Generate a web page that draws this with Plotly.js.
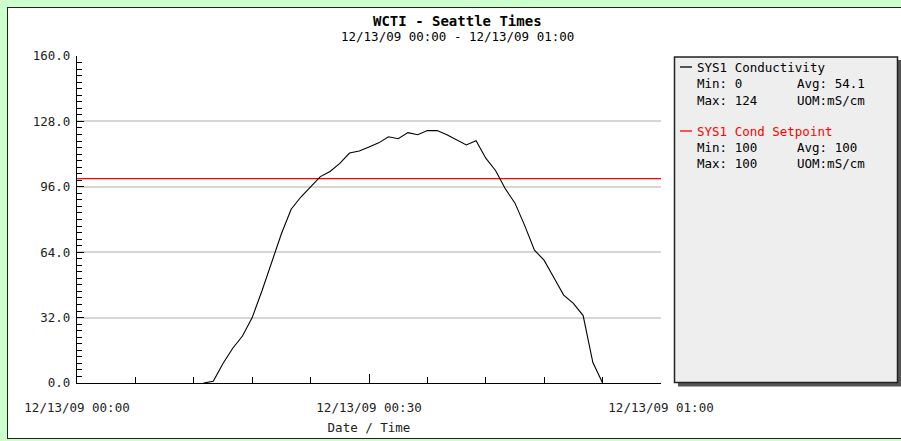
<!DOCTYPE html>
<html>
<head>
<meta charset="utf-8">
<script src="https://cdn.plot.ly/plotly-3.0.1.min.js"></script>
<style>
  html, body { margin: 0; padding: 0; width: 901px; height: 441px; overflow: hidden; background: #ccffcc; }
  #panel { position: absolute; left: 7px; top: 7px; width: 1000px; height: 432px; background: #ffffff; border: 1px solid #222; box-sizing: border-box; }
  #chart { position: absolute; left: 0; top: 0; width: 901px; height: 441px; }
</style>
</head>
<body>
<div id="panel"></div>
<div id="chart"></div>
<script>
// ---- data ----
var chartTitle = "WCTI - Seattle Times";
var chartSubtitle = "12/13/09 00:00 - 12/13/09 01:00";
var xAxisTitle = "Date / Time";

var condTimes = [
  "2009-12-13 00:13", "2009-12-13 00:14", "2009-12-13 00:15", "2009-12-13 00:16",
  "2009-12-13 00:17", "2009-12-13 00:18", "2009-12-13 00:19", "2009-12-13 00:20",
  "2009-12-13 00:21", "2009-12-13 00:22", "2009-12-13 00:23", "2009-12-13 00:24",
  "2009-12-13 00:25", "2009-12-13 00:26", "2009-12-13 00:27", "2009-12-13 00:28",
  "2009-12-13 00:29", "2009-12-13 00:30", "2009-12-13 00:31", "2009-12-13 00:32",
  "2009-12-13 00:33", "2009-12-13 00:34", "2009-12-13 00:35", "2009-12-13 00:36",
  "2009-12-13 00:37", "2009-12-13 00:38", "2009-12-13 00:39", "2009-12-13 00:40",
  "2009-12-13 00:41", "2009-12-13 00:42", "2009-12-13 00:43", "2009-12-13 00:44",
  "2009-12-13 00:45", "2009-12-13 00:46", "2009-12-13 00:47", "2009-12-13 00:48",
  "2009-12-13 00:49", "2009-12-13 00:50", "2009-12-13 00:51", "2009-12-13 00:52",
  "2009-12-13 00:53", "2009-12-13 00:54"
];
var condValues = [
  0, 0.8, 9.5, 17,
  23, 32, 45, 59,
  73, 85, 91, 96,
  101, 103.5, 107.5, 112.5,
  113.5, 115.5, 117.5, 120.5,
  119.5, 122.5, 121.5, 123.5,
  123.5, 121.5, 119, 116.5,
  118.5, 110, 104, 95,
  88, 77, 65, 60,
  51.5, 43, 39, 33,
  10, 0
];

var setTimes = ["2009-12-13 00:00", "2009-12-13 01:00"];
var setValues = [100, 100];

var seriesNames = ["SYS1 Conductivity", "SYS1 Cond Setpoint"];
var seriesMin = ["0", "100"];
var seriesMax = ["124", "100"];
var seriesAvg = ["54.1", "100"];
var seriesUom = ["mS/cm", "mS/cm"];
var seriesColors = ["#000000", "#ff0000"];

var xTickVals = ["2009-12-13 00:00", "2009-12-13 00:30", "2009-12-13 01:00"];
var yTickVals = [0, 32, 64, 96, 128, 160];

// ---- layout helpers (pixel -> paper) ----
var L = 77, R = 661, T = 56, B = 383;
function px(x) { return (x - L) / (R - L); }
function py(y) { return (B - y) / (B - T); }

var mono = "DejaVu Sans Mono, Liberation Mono, monospace";

var traces = [
  { x: setTimes, y: setValues, type: "scatter", mode: "lines", name: seriesNames[1],
    line: { color: seriesColors[1], width: 1.2 }, hoverinfo: "skip" },
  { x: condTimes, y: condValues, type: "scatter", mode: "lines", name: seriesNames[0],
    line: { color: seriesColors[0], width: 1.1 }, hoverinfo: "skip" }
];

var shapes = [
  // legend shadow
  { type: "rect", xref: "paper", yref: "paper", x0: px(678), x1: px(901), y0: py(60), y1: py(386.5),
    fillcolor: "#555555", line: { width: 0 }, layer: "above" },
  // legend box
  { type: "rect", xref: "paper", yref: "paper", x0: px(674.5), x1: px(897.5), y0: py(57), y1: py(382.5),
    fillcolor: "#eeeeee", line: { color: "#222222", width: 1.5 }, layer: "above" }
];

var annotations = [
  { xref: "paper", yref: "paper", x: px(457), y: py(21), text: "<b>" + chartTitle + "</b>",
    showarrow: false, xanchor: "center", yanchor: "middle", font: { family: mono, size: 14, color: "#000" } },
  { xref: "paper", yref: "paper", x: px(457), y: py(36.5), text: chartSubtitle,
    showarrow: false, xanchor: "center", yanchor: "middle", font: { family: mono, size: 12.5, color: "#000" } }
];

var rowsY = [[67, 83.5, 100], [131, 147, 163.5]];
for (var i = 0; i < seriesNames.length; i++) {
  var r = rowsY[i];
  shapes.push({ type: "line", xref: "paper", yref: "paper", x0: px(680), x1: px(692), y0: py(r[0]), y1: py(r[0]),
    line: { color: seriesColors[i], width: 1.3 }, layer: "above" });
  var tc = i === 0 ? "#000000" : "#ff0000";
  annotations.push({ xref: "paper", yref: "paper", x: px(695), y: py(r[0]), text: seriesNames[i],
    showarrow: false, xanchor: "left", yanchor: "middle", font: { family: mono, size: 12.5, color: tc } });
  annotations.push({ xref: "paper", yref: "paper", x: px(695), y: py(r[1]), text: "Min: " + seriesMin[i],
    showarrow: false, xanchor: "left", yanchor: "middle", font: { family: mono, size: 12.5, color: "#000" } });
  annotations.push({ xref: "paper", yref: "paper", x: px(795), y: py(r[1]), text: "Avg: " + seriesAvg[i],
    showarrow: false, xanchor: "left", yanchor: "middle", font: { family: mono, size: 12.5, color: "#000" } });
  annotations.push({ xref: "paper", yref: "paper", x: px(695), y: py(r[2]), text: "Max: " + seriesMax[i],
    showarrow: false, xanchor: "left", yanchor: "middle", font: { family: mono, size: 12.5, color: "#000" } });
  annotations.push({ xref: "paper", yref: "paper", x: px(795), y: py(r[2]), text: "UOM:" + seriesUom[i],
    showarrow: false, xanchor: "left", yanchor: "middle", font: { family: mono, size: 12.5, color: "#000" } });
}

var layout = {
  width: 901, height: 441,
  margin: { l: L, r: 901 - R, t: T, b: 441 - B, pad: 0 },
  paper_bgcolor: "rgba(0,0,0,0)",
  plot_bgcolor: "#ffffff",
  showlegend: false,
  font: { family: mono, size: 12.5, color: "#222" },
  xaxis: {
    type: "date",
    range: ["2009-12-13 00:00", "2009-12-13 01:00"],
    tickmode: "array", tickvals: xTickVals, tickformat: "%m/%d/%y %H:%M",
    ticks: "inside", ticklen: 9, tickcolor: "#000", tickwidth: 1,
    minor: { dtick: 360000, tick0: "2009-12-13 00:00", ticks: "inside", ticklen: 6, tickcolor: "#000", showgrid: false },
    showgrid: false, zeroline: false,
    showline: true, linecolor: "#000", linewidth: 1.2,
    ticklabelstandoff: 13,
    tickfont: { family: mono, size: 12.5, color: "#222" },
    title: { text: xAxisTitle, standoff: 9, font: { family: mono, size: 12.5, color: "#222" } },
    fixedrange: true
  },
  yaxis: {
    range: [0, 160],
    tickmode: "array", tickvals: yTickVals, tickformat: ".1f",
    ticks: "inside", ticklen: 7, tickcolor: "#000", tickwidth: 1,
    minor: { dtick: 3.2, tick0: 0, ticks: "inside", ticklen: 5, tickcolor: "#000", showgrid: false },
    showgrid: true, gridcolor: "#d6d6d6", gridwidth: 2,
    zeroline: false,
    showline: true, linecolor: "#000", linewidth: 1.2,
    ticklabelstandoff: 3,
    tickfont: { family: mono, size: 12.5, color: "#222" },
    fixedrange: true
  },
  shapes: shapes,
  annotations: annotations
};

Plotly.newPlot("chart", traces, layout, { displayModeBar: false, staticPlot: true });
</script>
</body>
</html>
